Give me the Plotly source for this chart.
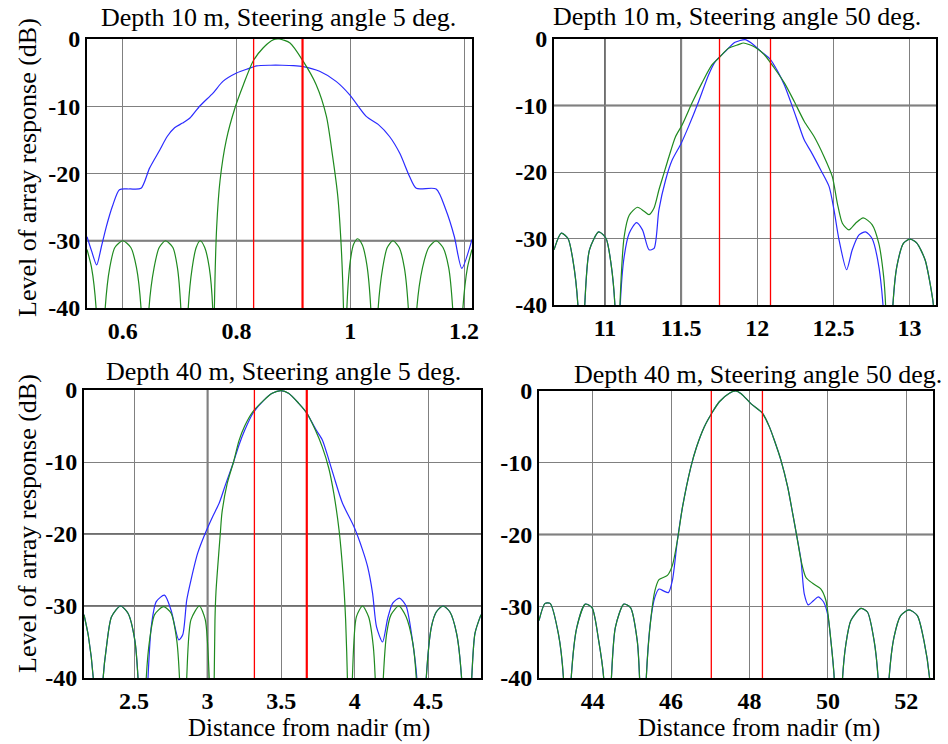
import plotly.graph_objects as go
from plotly.subplots import make_subplots

W, H = 948, 744

# ---------------- Panel 1: Depth 10 m, steering 5 deg ----------------
p1_blue_x = [0.537, 0.545, 0.554, 0.562, 0.571, 0.582, 0.594, 0.612, 0.632, 0.647, 0.665, 0.678, 0.691,
             0.705, 0.718, 0.735, 0.759, 0.776, 0.800, 0.821, 0.835, 0.860, 0.880, 0.900, 0.917, 0.946,
             0.975, 0.999, 1.028, 1.049, 1.069, 1.087, 1.104, 1.116, 1.151, 1.168, 1.183, 1.196, 1.214]
p1_blue_y = [-29.4, -31.5, -33.6, -31.0, -27.9, -24.8, -22.4, -22.3, -22.2, -19.2, -16.5, -14.5, -13.2,
             -12.5, -11.75, -10.0, -8.0, -6.3, -5.06, -4.4, -4.0, -3.9, -3.9, -3.95, -4.1, -4.8,
             -6.3, -8.3, -11.5, -12.7, -14.5, -17.0, -20.4, -22.2, -22.3, -25.4, -29.4, -34.1, -29.8]

p1_green_x = [0.537, 0.545, 0.553, 0.561, 0.569, 0.577, 0.586, 0.600, 0.614, 0.624, 0.632, 0.639, 0.646,
              0.655, 0.664, 0.675, 0.688, 0.696, 0.702, 0.709, 0.715, 0.722, 0.729, 0.736, 0.744, 0.752,
              0.758, 0.759, 0.761, 0.765, 0.771, 0.782, 0.797, 0.812, 0.829, 0.847, 0.865, 0.875, 0.894,
              0.917, 0.940, 0.958, 0.969, 0.978, 0.984, 0.988, 0.991, 0.994, 1.000, 1.006, 1.013, 1.021,
              1.029, 1.036, 1.042, 1.049, 1.057, 1.065, 1.075, 1.086, 1.095, 1.102, 1.110, 1.117, 1.127,
              1.138, 1.151, 1.163, 1.173, 1.180, 1.189, 1.198, 1.206, 1.214]
p1_green_y = [-31.3, -34.0, -40.0, -60.0, -40.0, -34.0, -31.0, -30.0, -31.0, -34.0, -40.0, -60.0, -40.0,
              -34.0, -31.0, -30.0, -31.0, -34.0, -40.0, -60.0, -40.0, -34.0, -31.0, -30.0, -31.0, -34.0,
              -40.0, -60.0, -40.0, -28.0, -21.0, -15.0, -10.3, -6.8, -3.3, -1.3, -0.1, 0.0, -0.6,
              -3.3, -6.8, -11.5, -17.5, -23.4, -30.8, -40.0, -60.0, -40.0, -33.0, -30.5, -29.7, -30.6,
              -33.5, -40.0, -60.0, -40.0, -34.0, -31.0, -30.0, -31.0, -34.0, -40.0, -60.0, -40.0, -34.0,
              -31.0, -30.0, -31.0, -34.0, -40.0, -60.0, -40.0, -34.0, -31.3]
p1_red = [0.830, 0.916]
p1_xrange = [0.537, 1.214]
p1_xticks = [0.6, 0.8, 1.0, 1.2]
p1_xlabels = ["0.6", "0.8", "1", "1.2"]

# ---------------- Panel 2: Depth 10 m, steering 50 deg ----------------
p2_blue_x = [10.665, 10.713, 10.757, 10.789, 10.822, 10.843, 10.867, 10.898, 10.959, 11.007, 11.039, 11.065,
             11.082, 11.100, 11.126, 11.159, 11.207, 11.246, 11.289, 11.322, 11.354, 11.398, 11.441, 11.500,
             11.550, 11.615, 11.680, 11.724, 11.789, 11.854, 11.920, 11.961, 12.026, 12.087, 12.135, 12.178,
             12.222, 12.265, 12.309, 12.352, 12.417, 12.472, 12.504, 12.537, 12.587, 12.624, 12.667, 12.711,
             12.754, 12.791, 12.826, 12.858, 12.891, 12.917, 12.961, 13.004, 13.048, 13.102, 13.146, 13.157,
             13.174]
p2_blue_y = [-31.7, -29.2, -30.0, -33.2, -40.0, -60.0, -40.0, -31.7, -29.0, -30.0, -33.7, -40.0,
             -60.0, -40.0, -32.7, -29.2, -27.6, -28.7, -31.7, -31.5, -25.7, -21.2, -18.2, -15.7,
             -13.1, -9.4, -5.4, -3.4, -1.9, -0.5, -0.1, -0.6, -1.9, -3.1, -4.9, -6.9,
             -9.6, -12.4, -15.2, -16.9, -19.7, -22.2, -25.7, -30.2, -34.7, -31.7, -29.5, -29.0,
             -30.0, -33.2, -40.0, -60.0, -40.0, -34.2, -30.7, -30.1, -30.7, -33.2, -38.2, -40.0,
             -50.0]

p2_green_x = [10.665, 10.713, 10.757, 10.789, 10.822, 10.843, 10.867, 10.898, 10.959, 11.007, 11.039, 11.065,
              11.080, 11.098, 11.126, 11.159, 11.213, 11.257, 11.289, 11.322, 11.354, 11.387, 11.420, 11.463,
              11.507, 11.572, 11.637, 11.702, 11.746, 11.811, 11.876, 11.910, 11.983, 12.048, 12.113, 12.178,
              12.243, 12.309, 12.374, 12.439, 12.493, 12.526, 12.559, 12.602, 12.646, 12.696, 12.754, 12.798,
              12.830, 12.843, 12.867, 12.891, 12.917, 12.961, 13.004, 13.048, 13.102, 13.146, 13.157, 13.174]
p2_green_y = [-31.7, -29.2, -30.0, -33.2, -40.0, -60.0, -40.0, -31.7, -29.0, -30.0, -33.7, -40.0,
              -60.0, -40.0, -29.7, -26.5, -25.3, -25.9, -26.4, -25.4, -22.7, -20.2, -17.7, -14.7,
              -12.9, -9.6, -6.6, -3.9, -2.9, -1.4, -0.85, -0.6, -1.2, -2.4, -4.4, -6.6,
              -9.4, -12.4, -14.7, -17.7, -20.7, -24.7, -27.7, -28.7, -27.7, -26.9, -27.9, -30.7,
              -35.7, -40.0, -60.0, -40.0, -34.2, -30.7, -30.1, -30.7, -33.2, -38.2, -40.0, -50.0]
p2_red = [11.752, 12.087]
p2_xrange = [10.665, 13.174]
p2_xticks = [11, 11.5, 12, 12.5, 13]
p2_xlabels = ["11", "11.5", "12", "12.5", "13"]

# ---------------- Panel 3: Depth 40 m, steering 5 deg ----------------
p3_blue_x = [2.160, 2.190, 2.223, 2.256, 2.290, 2.313, 2.347, 2.408, 2.459, 2.505, 2.527, 2.560, 2.595,
             2.617, 2.651, 2.707, 2.752, 2.804, 2.831, 2.858, 2.887, 2.932, 2.984, 3.034, 3.079, 3.124,
             3.173, 3.214, 3.252, 3.309, 3.383, 3.439, 3.500, 3.550, 3.619, 3.674, 3.733, 3.779, 3.824,
             3.858, 3.916, 3.995, 4.053, 4.087, 4.121, 4.148, 4.189, 4.224, 4.258, 4.304, 4.349, 4.395,
             4.422, 4.454, 4.486, 4.521, 4.555, 4.600, 4.646, 4.692, 4.726, 4.760, 4.795, 4.817, 4.858]
p3_blue_y = [-31.2, -34.2, -40.0, -60.0, -40.0, -35.6, -31.5, -30.0, -31.0, -34.7, -40.0, -60.0, -40.0,
             -32.9, -29.4, -28.5, -30.6, -34.7, -34.0, -29.2, -26.4, -22.7, -19.9, -17.6, -15.7, -13.0,
             -10.2, -7.6, -5.6, -3.2, -1.4, -0.46, -0.1, -0.46, -1.85, -3.2, -5.4, -6.9, -9.7,
             -12.0, -15.7, -19.0, -22.2, -24.5, -28.2, -32.9, -35.0, -31.7, -29.6, -28.9, -30.0, -35.2,
             -40.0, -60.0, -40.0, -32.9, -30.8, -30.0, -30.8, -33.8, -40.0, -60.0, -40.0, -33.8, -31.2]

p3_green_x = [2.160, 2.190, 2.223, 2.256, 2.290, 2.313, 2.347, 2.408, 2.459, 2.505, 2.527, 2.555, 2.583,
              2.606, 2.640, 2.700, 2.752, 2.790, 2.809, 2.834, 2.858, 2.887, 2.944, 2.984, 3.011, 3.028,
              3.045, 3.050, 3.057, 3.086, 3.098, 3.133, 3.176, 3.214, 3.252, 3.308, 3.383, 3.439, 3.500,
              3.550, 3.619, 3.674, 3.733, 3.779, 3.824, 3.858, 3.893, 3.920, 3.938, 3.950, 3.967, 3.984,
              4.011, 4.053, 4.094, 4.126, 4.139, 4.166, 4.194, 4.217, 4.247, 4.299, 4.349, 4.395, 4.418,
              4.454, 4.486, 4.521, 4.555, 4.600, 4.646, 4.692, 4.726, 4.760, 4.795, 4.817, 4.858]
p3_green_y = [-31.2, -34.2, -40.0, -60.0, -40.0, -35.6, -31.5, -30.0, -31.0, -34.7, -40.0, -60.0, -40.0,
              -34.7, -31.2, -30.1, -31.0, -34.7, -40.0, -60.0, -40.0, -31.9, -30.0, -31.9, -40.0, -60.0,
              -40.0, -32.0, -28.0, -20.0, -17.0, -13.0, -10.0, -7.0, -5.0, -3.0, -1.4, -0.46, -0.1,
              -0.46, -1.85, -3.2, -5.6, -7.9, -10.9, -14.4, -19.4, -25.5, -31.9, -40.0, -60.0, -40.0,
              -31.5, -30.0, -31.5, -35.6, -40.0, -60.0, -40.0, -33.8, -31.2, -30.0, -31.5, -35.2, -40.0,
              -60.0, -40.0, -32.9, -30.8, -30.0, -30.8, -33.8, -40.0, -60.0, -40.0, -33.8, -31.2]
p3_red = [3.318, 3.674]
p3_xrange = [2.160, 4.858]
p3_xticks = [2.5, 3, 3.5, 4, 4.5]
p3_xlabels = ["2.5", "3", "3.5", "4", "4.5"]

# ---------------- Panel 4: Depth 40 m, steering 50 deg ----------------
p4_blue_x = [42.632, 42.786, 42.915, 43.128, 43.256, 43.355, 43.453, 43.598, 43.812, 43.983, 44.154, 44.282,
             44.380, 44.479, 44.581, 44.795, 44.966, 45.137, 45.197, 45.283, 45.368, 45.479, 45.590, 45.692,
             45.820, 45.932, 46.034, 46.162, 46.291, 46.504, 46.650, 46.846, 47.026, 47.231, 47.487, 47.650,
             47.788, 48.042, 48.330, 48.508, 48.636, 48.805, 48.975, 49.102, 49.212, 49.314, 49.398, 49.500,
             49.636, 49.754, 49.890, 49.992, 50.076, 50.161, 50.267, 50.373, 50.458, 50.585, 50.839, 51.008,
             51.178, 51.280, 51.420, 51.560, 51.686, 51.856, 52.068, 52.280, 52.449, 52.593, 52.680]
p4_blue_y = [-32.0, -29.6, -29.6, -33.9, -40.0, -60.0, -40.0, -32.9, -29.7, -30.2, -34.8, -40.0,
             -60.0, -40.0, -32.9, -29.7, -30.2, -34.8, -40.0, -60.0, -40.0, -32.0, -28.7, -27.6,
             -27.9, -28.1, -26.4, -20.8, -16.2, -10.6, -7.8, -5.0, -3.2, -1.5, -0.3, 0.0,
             -0.37, -1.8, -3.1, -5.0, -6.9, -9.7, -13.4, -17.1, -20.4, -23.6, -28.3, -29.8,
             -29.2, -28.7, -29.4, -31.1, -34.8, -40.0, -60.0, -40.0, -35.3, -32.0, -30.3, -30.8,
             -34.8, -40.0, -60.0, -40.0, -34.3, -31.3, -30.5, -31.3, -34.8, -40.0, -50.0]

p4_green_x = [42.632, 42.786, 42.915, 43.128, 43.256, 43.355, 43.453, 43.598, 43.812, 43.983, 44.154, 44.282,
              44.380, 44.479, 44.581, 44.795, 44.966, 45.137, 45.197, 45.283, 45.368, 45.479, 45.590, 45.692,
              45.906, 46.034, 46.162, 46.291, 46.504, 46.650, 46.846, 47.026, 47.231, 47.487, 47.650,
              47.788, 48.042, 48.330, 48.508, 48.636, 48.805, 48.975, 49.102, 49.212, 49.314, 49.441, 49.610,
              49.822, 49.949, 50.076, 50.161, 50.267, 50.373, 50.458, 50.585, 50.839, 51.008,
              51.178, 51.280, 51.420, 51.560, 51.686, 51.856, 52.068, 52.280, 52.449, 52.593, 52.680]
p4_green_y = [-32.0, -29.6, -29.6, -33.9, -40.0, -60.0, -40.0, -32.9, -29.7, -30.2, -34.8, -40.0,
              -60.0, -40.0, -32.9, -29.7, -30.2, -34.8, -40.0, -60.0, -40.0, -32.0, -27.8, -26.3,
              -25.7, -24.3, -20.8, -16.2, -10.6, -7.8, -5.0, -3.2, -1.5, -0.3, 0.0,
              -0.37, -1.8, -3.1, -5.0, -6.9, -9.7, -13.4, -17.1, -20.4, -23.6, -26.0, -26.8,
              -27.6, -29.2, -34.8, -40.0, -60.0, -40.0, -35.3, -32.0, -30.3, -30.8,
              -34.8, -40.0, -60.0, -40.0, -34.3, -31.3, -30.5, -31.3, -34.8, -40.0, -50.0]
p4_red = [47.026, 48.330]
p4_xrange = [42.632, 52.680]
p4_xticks = [44, 46, 48, 50, 52]
p4_xlabels = ["44", "46", "48", "50", "52"]

y_ticks = [0, -10, -20, -30, -40]
titles = ["Depth 10 m, Steering angle 5 deg.", "Depth 10 m, Steering angle 50 deg.",
          "Depth 40 m, Steering angle 5 deg.", "Depth 40 m, Steering angle 50 deg."]
y_label = "Level of array response (dB)"
x_label = "Distance from nadir (m)"

BLUE = "#2b2bff"
GREEN = "#1f8a1f"
RED = "#ff0000"
SERIF = "Liberation Serif"

panels = [
    (p1_blue_x, p1_blue_y, p1_green_x, p1_green_y, p1_red, p1_xrange, p1_xticks, p1_xlabels),
    (p2_blue_x, p2_blue_y, p2_green_x, p2_green_y, p2_red, p2_xrange, p2_xticks, p2_xlabels),
    (p3_blue_x, p3_blue_y, p3_green_x, p3_green_y, p3_red, p3_xrange, p3_xticks, p3_xlabels),
    (p4_blue_x, p4_blue_y, p4_green_x, p4_green_y, p4_red, p4_xrange, p4_xticks, p4_xlabels),
]

# pixel boxes of plot areas: (left, right, top, bottom)
boxes = [(87, 472, 39, 308), (554, 936, 39, 305), (84, 481, 390, 678), (539, 933, 391, 678)]
# emphasised (darker) grid lines seen in the reference: (panel, axis, value)
dark_grid = [(0, "y", -30), (1, "x", 11), (1, "x", 11.5), (1, "y", -10),
             (2, "x", 3), (2, "y", -20), (2, "y", -30), (3, "y", -20)]

fig = make_subplots(rows=2, cols=2)
shapes = []
for i, (bx, by, gx, gy, reds, xr, xt, xl) in enumerate(panels):
    r, c = i // 2 + 1, i % 2 + 1
    fig.add_trace(go.Scatter(x=bx, y=by, mode="lines",
                             line=dict(color=BLUE, width=1.2, shape="spline", smoothing=0.7),
                             showlegend=False, hoverinfo="skip"), row=r, col=c)
    fig.add_trace(go.Scatter(x=gx, y=gy, mode="lines",
                             line=dict(color=GREEN, width=1.2, shape="spline", smoothing=0.7),
                             showlegend=False, hoverinfo="skip"), row=r, col=c)
    for j, rx in enumerate(reds):
        fig.add_trace(go.Scatter(x=[rx, rx], y=[0, -40], mode="lines",
                                 line=dict(color=RED, width=2.2 if (i in (0, 2) and j == 1) else 1.3),
                                 showlegend=False, hoverinfo="skip"), row=r, col=c)
    L, R, T, B = boxes[i]
    axn = "" if i == 0 else str(i + 1)
    fig.layout["xaxis" + axn].update(
        domain=[L / W, R / W], range=xr, tickvals=xt, ticktext=xl,
        showgrid=True, gridcolor="#808080", gridwidth=1, zeroline=False,
        showline=True, linecolor="black", linewidth=2, mirror=True,
        ticks="", ticklabelstandoff=0,
        tickfont=dict(family=SERIF, size=24, color="black", weight="bold"))
    fig.layout["yaxis" + axn].update(
        domain=[1 - B / H, 1 - T / H], range=[-40, 0], tickvals=y_ticks,
        ticktext=[str(v) for v in y_ticks],
        showgrid=True, gridcolor="#808080", gridwidth=1, zeroline=False,
        showline=True, linecolor="black", linewidth=2, mirror=True,
        ticks="", tickfont=dict(family=SERIF, size=24, color="black", weight="bold"))

for (pi, ax, v) in dark_grid:
    axn = "" if pi == 0 else str(pi + 1)
    if ax == "y":
        shapes.append(dict(type="line", xref="x" + axn + " domain", yref="y" + axn,
                           x0=0, x1=1, y0=v, y1=v, layer="below",
                           line=dict(color="#6e6e6e", width=2)))
    else:
        shapes.append(dict(type="line", xref="x" + axn, yref="y" + axn + " domain",
                           x0=v, x1=v, y0=0, y1=1, layer="below",
                           line=dict(color="#6e6e6e", width=2)))

title_pos = [(278, 18), (737, 17), (283, 371), (758, 374)]
ann = []
for t, (px, py) in zip(titles, title_pos):
    ann.append(dict(text=t, x=px / W, y=1 - py / H, xref="paper", yref="paper",
                    xanchor="center", yanchor="middle", showarrow=False,
                    font=dict(family=SERIF, size=26, color="black")))
for py in (168, 524):
    ann.append(dict(text=y_label, x=27 / W, y=1 - py / H, xref="paper", yref="paper",
                    xanchor="center", yanchor="middle", showarrow=False, textangle=-90,
                    font=dict(family=SERIF, size=26, color="black")))
for px in (309, 759):
    ann.append(dict(text=x_label, x=px / W, y=1 - 744 / H, xref="paper", yref="paper",
                    xanchor="center", yanchor="bottom", showarrow=False,
                    font=dict(family=SERIF, size=25, color="black")))

fig.update_layout(width=W, height=H, margin=dict(l=0, r=0, t=0, b=0, pad=0, autoexpand=False),
                  paper_bgcolor="white", plot_bgcolor="white", annotations=ann, shapes=shapes)

fig.write_html("out.html")
